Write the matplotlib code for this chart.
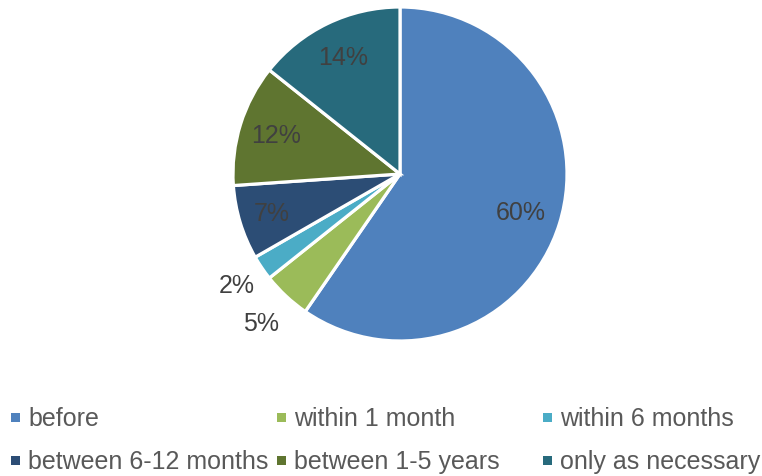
import matplotlib
matplotlib.use("Agg")
import matplotlib.pyplot as plt
from matplotlib.patches import Rectangle
import numpy as np

plt.rcParams['font.family'] = ['Liberation Sans', 'DejaVu Sans']

categories = ["before", "within 1 month", "within 6 months",
              "between 6-12 months", "between 1-5 years", "only as necessary"]
values = [59.6, 4.7, 2.4, 7.2, 11.8, 14.3]
colors = ["#4F81BD", "#9BBB59", "#4BACC6", "#2C4D75", "#5F7530", "#276A7C"]
label_dist = [0.76, 1.22, 1.18, 0.80, 0.78, 0.78]

W, H = 762, 477
fig = plt.figure(figsize=(W / 100, H / 100), dpi=100)

cx, cy, R = 400, 175, 167
ax = fig.add_axes([(cx - R) / W, (H - cy - R) / H, 2 * R / W, 2 * R / H])
wedges, _ = ax.pie(values, colors=colors, startangle=90, counterclock=False,
                   wedgeprops=dict(edgecolor="white", linewidth=2.3))
ax.set_xlim(-1, 1)
ax.set_ylim(-1, 1)
ax.set_aspect("equal")
ax.axis("off")

total = sum(values)
for w, v, d in zip(wedges, values, label_dist):
    ang = np.deg2rad((w.theta1 + w.theta2) / 2)
    ax.text(d * np.cos(ang), d * np.sin(ang), f"{v / total * 100:.0f}%",
            ha="center", va="center", fontsize=18, color="#404040",
            clip_on=False)

# legend (grid layout)
col_x = [11, 277, 543]
row_base = [426, 469]
sq = 9
for i, (name, c) in enumerate(zip(categories, colors)):
    r, col = divmod(i, 3)
    x0 = col_x[col]
    yb = row_base[r]
    fig.patches.append(Rectangle((x0 / W, (H - (yb - 3)) / H), sq / W, sq / H,
                                 transform=fig.transFigure, facecolor=c,
                                 edgecolor="none"))
    fig.text((x0 + 17) / W, (H - yb) / H, name, ha="left", va="baseline",
             fontsize=18, color="#595959")

fig.savefig("out.png", dpi=100)
